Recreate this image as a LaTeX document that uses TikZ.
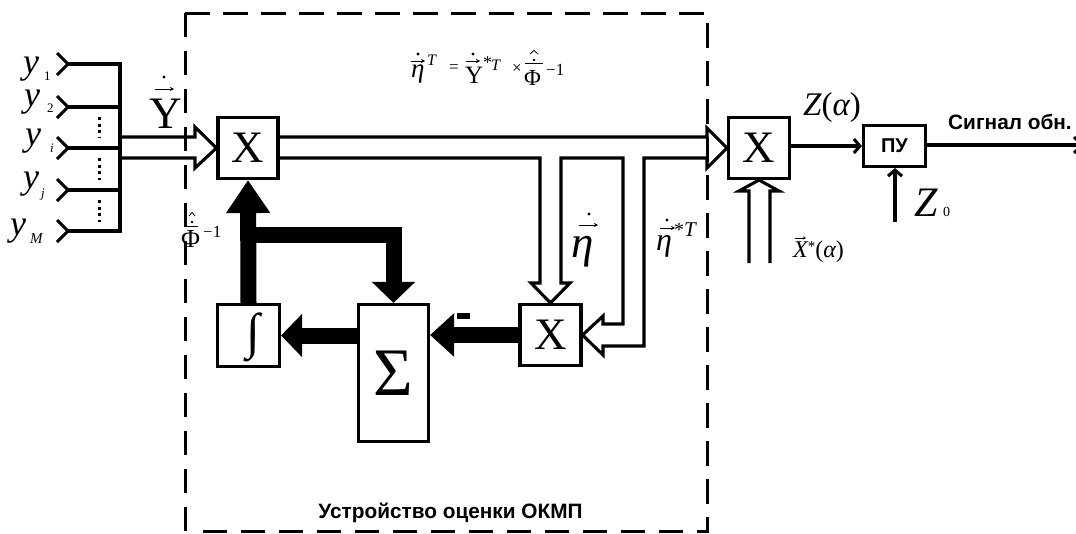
\documentclass[tikz,border=0pt]{standalone}
\usepackage{fontspec}
\setmainfont{Liberation Serif}
\newfontfamily\sansb{Liberation Sans}[Scale=1]
\usetikzlibrary{arrows.meta}
\newcommand{\fs}[1]{\fontsize{#1}{#1}\selectfont}
\newcommand{\vecdot}[5]{% x1 x2 y dotx doty
  \draw[line width=.8pt,-{Stealth[length=4pt,width=4pt]}] (#1,#3) -- (#2,#3);
  \fill (#4,#5) circle (1.6pt);}
\tikzset{
  wire/.style={line width=3.1pt,line join=miter,miter limit=10},
  fat/.style={line width=16pt,-{Triangle[length=21pt,width=42pt]}},
  fatup/.style={line width=16pt,-{Triangle[length=33pt,width=42pt]}},
  box/.style={draw,line width=3.1pt,fill=white,inner sep=0pt},
  lbl/.style={inner sep=0pt,anchor=base west},
  opentip/.style={line width=3.1pt,-{Straight Barb[length=6pt,width=14pt,line width=3.1pt]}},
  frame/.style={line width=3pt,dash pattern=on 24.5pt off 13.5pt},
}
\begin{document}
\begin{tikzpicture}[x=1pt,y=-1pt]
\useasboundingbox (0,0) rectangle (1076,533);
% dashed frame
\draw[frame] (185,13) -- (707,13) -- (707,531) -- (199,531);
\draw[frame] (185,531) -- (185,13);
% boxes
\node[box,minimum width=60pt,minimum height=61pt,font=\fs{45}] (xa) at (248,148) {X};
\node[box,minimum width=61pt,minimum height=61pt,font=\fs{45}] (xb) at (550.5,335) {X};
\node[box,minimum width=61pt,minimum height=61pt,font=\fs{45}] (xc) at (759,148) {X};
\node[box,minimum width=62pt,minimum height=62pt] (intg) at (248.5,335.5) {};
\node[box,minimum width=70pt,minimum height=137pt,font=\fs{68}] (sigma) at (393.5,373) {Σ};
\node[box,minimum width=62pt,minimum height=41pt,font=\sansb\bfseries\fs{20}] (pu) at (894.5,146) {ПУ};
\node[inner sep=0pt,font=\fs{50}] (intsym) at (253,337) {∫};
% inputs
\coordinate (bustop) at (120,64);
\coordinate (busbot) at (120,231);
\foreach \n/\yy in {a/64,b/107,c/148,d/190,e/231}{
  \coordinate (in\n) at (68,\yy);
  \draw[wire] ([shift={(-11,-11)}]in\n) -- (in\n) -- ([shift={(-11,11)}]in\n);
  \draw[wire] (in\n) -- (in\n -| bustop);
}
\draw[wire,line cap=rect] (bustop) -- (busbot);
\foreach \a/\b in {117/138,158/180,200/222}{
  \draw[line width=3pt,dash pattern=on 3pt off 3.5pt] (99,\a) -- (99,\b);
}
% hollow buses
\coordinate (busu) at (120,137);
\coordinate (busl) at (120,158);
\draw[wire] (busu) -- (195,137) -- (195,127) -- (xa.west) -- (195,168) -- (195,158) -- (busl);
\coordinate (xau) at (xa.east |- busu);
\coordinate (xal) at (xa.east |- busl);
\draw[wire] (xal) -- (540,158) -- (540,283) -- (531,283) -- (xb.north) -- (570,283) -- (561,283) -- (561,158) -- (623,158) -- (623,324) -- (603,324) -- (603,316) -- (xb.east) -- (603,355) -- (603,346) -- (644,346) -- (644,158) -- (707,158) -- (707,168) -- (xc.west) -- (707,128) -- (707,137) -- (xau);
\coordinate (xiu) at (749,263);
\coordinate (xiv) at (770,263);
\draw[wire] (xiu) -- (749,191) -- (739,191) -- (xc.south) -- (779,191) -- (770,191) -- (xiv);
% thick arrows
\coordinate (fork) at (intg.north |- 0,235);
\coordinate (bend) at (sigma.north |- 0,235);
\draw[fatup] (intg.north) -- (xa.south);
\draw[fat,line join=miter] (fork) -- (bend) -- (sigma.north);
\draw[fat] (sigma.west |- intg) -- (intg.east);
\draw[fat,-{Triangle[length=24pt,width=42pt]}] (xb.west) -- (sigma.east |- xb);
\fill (457,313) rectangle (470,319);
% outputs
\draw[opentip] (xc.east |- pu) -- (pu.west);
\coordinate (zz) at (895,222);
\draw[opentip] (zz) -- (pu.south -| zz);
\coordinate (outp) at (1076,145);
\draw[wire] (pu.east |- outp) -- (outp);
\coordinate (wingu) at (1074,137);
\coordinate (wingd) at (1074,153);
\draw[wire] (wingu) -- +(3,3);
\draw[wire] (wingd) -- +(3,-3);
% input labels
\node[lbl,font=\itshape\fs{36}] (ya) at (23,73) {y};
\node[lbl,font=\fs{13}] (sa) at (44,80) {1};
\node[lbl,font=\itshape\fs{36}] (yb) at (24,106) {y};
\node[lbl,font=\fs{13}] (sb) at (47,112) {2};
\node[lbl,font=\itshape\fs{36}] (yc) at (25,145) {y};
\node[lbl,font=\itshape\fs{13}] (sc) at (50,152) {i};
\node[lbl,font=\itshape\fs{36}] (yd) at (23,188) {y};
\node[lbl,font=\itshape\fs{13}] (sd) at (41,197) {j};
\node[lbl,font=\itshape\fs{36}] (ye) at (10,235) {y};
\node[lbl,font=\itshape\fs{15}] (se) at (30,243) {M};
% Y
\node[lbl,font=\fs{45}] (bigy) at (149,128) {Y};
\vecdot{155}{174}{89}{164}{77}
% Phi left
\node[lbl,font=\fs{26}] (phil) at (181,247) {Φ};
\node[lbl,font=\fs{17}] (phie) at (203,237) {−1};
\draw[line width=1pt] (185,226) -- (198,226);
\fill (192,222) circle (1.3pt);
\draw[line width=.8pt] (189,216) -- (192,212.5) -- (195,216);
% formula
\node[lbl,font=\itshape\fs{27}] (eta) at (411,77) {η};
\vecdot{411}{425}{61}{418}{54}
\node[lbl,font=\itshape\fs{16}] (etat) at (427,65) {T};
\node[lbl,font=\fs{17}] (eq) at (449,72) {=};
\node[lbl,font=\fs{25}] (yf) at (465,83) {Y};
\vecdot{466}{480}{61}{473}{54}
\node[lbl,font=\fs{18}] (stf) at (483,68) {*};
\node[lbl,font=\itshape\fs{16}] (tf) at (491,70) {T};
\node[lbl,font=\fs{17}] (tim) at (512,73) {×};
\node[lbl,font=\fs{23}] (phif) at (524,85) {Φ};
\draw[line width=1pt] (525,63.5) -- (543,63.5);
\fill (534,60) circle (1.3pt);
\draw[line width=.8pt] (530,54) -- (534,50.5) -- (538,54);
\node[lbl,font=\fs{17}] (phife) at (546,75) {−1};
% eta big
\node[lbl,font=\itshape\fs{45}] (etab) at (571,257) {η};
\vecdot{579}{598}{225}{589}{214}
\node[lbl,font=\itshape\fs{32}] (etac) at (656,250) {η};
\vecdot{660}{675}{228}{667}{220}
\node[lbl,font=\fs{20}] (stc) at (674,236) {*};
\node[lbl,font=\itshape\fs{21}] (tc) at (684,236) {T};
% right labels
\node[lbl,font=\fs{33}] (zal) at (803,115) {\itshape Z\upshape(\itshape α\upshape)};
\node[lbl,font=\itshape\fs{42}] (z0) at (914,216) {Z};
\node[lbl,font=\fs{14}] (z0s) at (943,216) {0};
\node[lbl,font=\fs{24}] (xal2) at (793,257) {\itshape X\upshape\raisebox{6pt}{\fs{15}*}(\itshape α\upshape)};
\draw[line width=.6pt,-{Stealth[length=3pt,width=3pt]}] (795,238) -- (806,238);
% sans labels
\node[lbl,font=\sansb\bfseries\fs{20.8}] (sig) at (948,129) {Сигнал обн.};
\node[inner sep=0pt,anchor=base,font=\sansb\bfseries\fs{20.8}] (dev) at (450.5,518) {Устройство оценки ОКМП};
\end{tikzpicture}
\end{document}
